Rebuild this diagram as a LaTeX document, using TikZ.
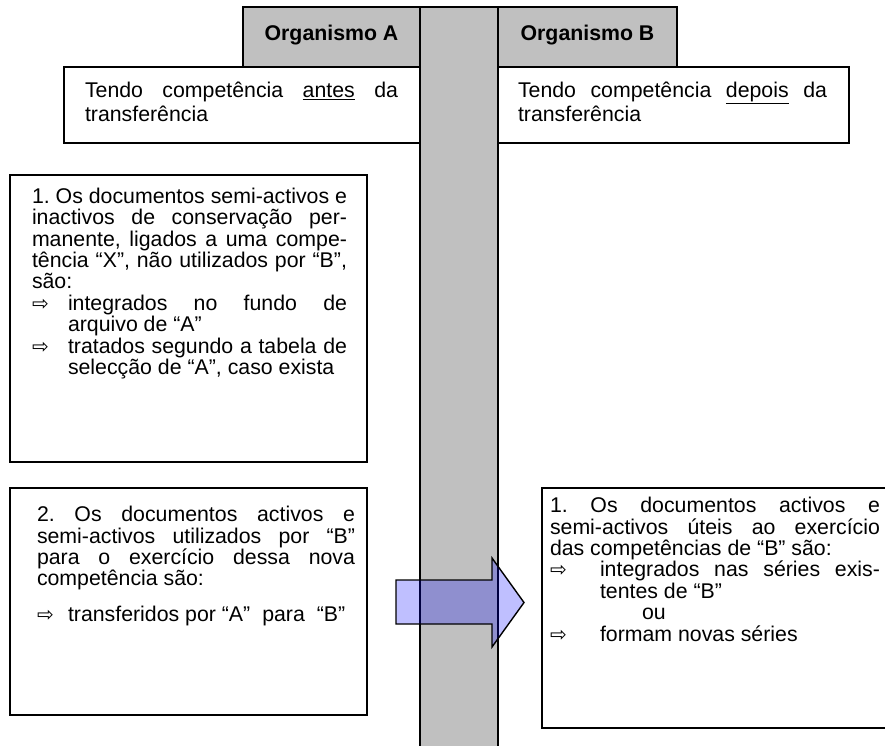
\documentclass[tikz,border=0pt]{standalone}
\usepackage{fontspec}
\setmainfont{Liberation Sans}
\newfontfamily\setafont{DejaVu Sans}
\usetikzlibrary{positioning}
\definecolor{colgray}{HTML}{C0C0C0}
\tikzstyle{header} = [draw, fill=colgray, line width=1.8pt, inner sep=0pt, text height=33.6pt, text depth=26.4pt, font=\bfseries\fontsize{21.3}{24}\selectfont]
\tikzstyle{doc} = [draw, fill=white, line width=1.8pt, inner sep=0pt, font=\fontsize{21.3}{21.4}\selectfont]
\tikzstyle{topdoc} = [doc, font=\fontsize{21.3}{24}\selectfont, text height=30.5pt, text depth=45.5pt]
\tikzstyle{transf} = [draw, line width=1.4pt, fill=blue, fill opacity=0.25]
% margem esquerda, largura do texto, margem direita, texto
\newcommand{\caixa}[4]{\hspace*{#1}\parbox[t]{#2}{\frenchspacing\tolerance=10000 \hyphenpenalty=10000 #4}\hspace*{#3}}
\newcommand{\seta}[1]{\par\hangindent=#1\hangafter=1\noindent\makebox[#1][l]{\setafont\fontsize{20}{20}\selectfont ⇨}}

\begin{document}
\begin{tikzpicture}[x=1pt, y=-1pt, every node/.append style={outer sep=0pt}]
\useasboundingbox (0,0) rectangle (885,745);

% coluna central
\node [draw, fill=colgray, line width=1.8pt, minimum width=78pt, minimum height=742pt, inner sep=0pt] (col) at (459,378) {};
\node [header, minimum width=177pt, below left=0pt and 0pt of col.north west] (orgA) {Organismo A};
\node [header, minimum width=179pt, below right=0pt and 0pt of col.north east] (orgB) {Organismo B};

\node [topdoc, anchor=north east] (antes) at (orgA.south east) {\caixa{21pt}{313pt}{22pt}{Tendo competência \underline{antes} da\linebreak transferência}};
\node [topdoc, anchor=north west] (depois) at (orgB.south west) {\caixa{20pt}{309pt}{22pt}{Tendo competência \underline{depois} da\linebreak transferência}};

% caixas de texto
\node [doc, text height=28.3pt, text depth=258.7pt, anchor=north west] (fica) at (10,175) {\caixa{22pt}{315pt}{20pt}{1. Os documentos semi-activos e\linebreak inactivos de conservação per-\linebreak manente, ligados a uma compe-\linebreak tência “X”, não utilizados por “B”,\linebreak são:\seta{36pt}integrados no fundo de\linebreak arquivo de “A”\seta{36pt}tratados segundo a tabela de\linebreak selecção de “A”, caso exista}};
\node [doc, text height=33.7pt, text depth=193.3pt, anchor=north west] (vai) at (10,488) {\caixa{27pt}{318pt}{12pt}{2. Os documentos activos e\linebreak semi-activos utilizados por “B”\linebreak para o exercício dessa nova\linebreak competência são:\par\vspace{14.6pt}\seta{31pt}transferidos por “A”\hspace{12pt}para\hspace{12pt}“B”}};
\node [doc, text height=24.7pt, text depth=215.3pt, anchor=north west] (chega) at (542,488) {\caixa{8pt}{330pt}{8pt}{1. Os documentos activos e\linebreak semi-activos úteis ao exercício\linebreak das competências de “B” são:\seta{50pt}integrados nas séries exis-\linebreak tentes de “B”\par\hspace*{92pt}ou\seta{50pt}formam novas séries}};

% seta
\draw [transf] (396,580) -- (492,580) -- (492,558) -- (524,602.5) -- (492,647) -- (492,624) -- (396,624) -- cycle;
\end{tikzpicture}
\end{document}
